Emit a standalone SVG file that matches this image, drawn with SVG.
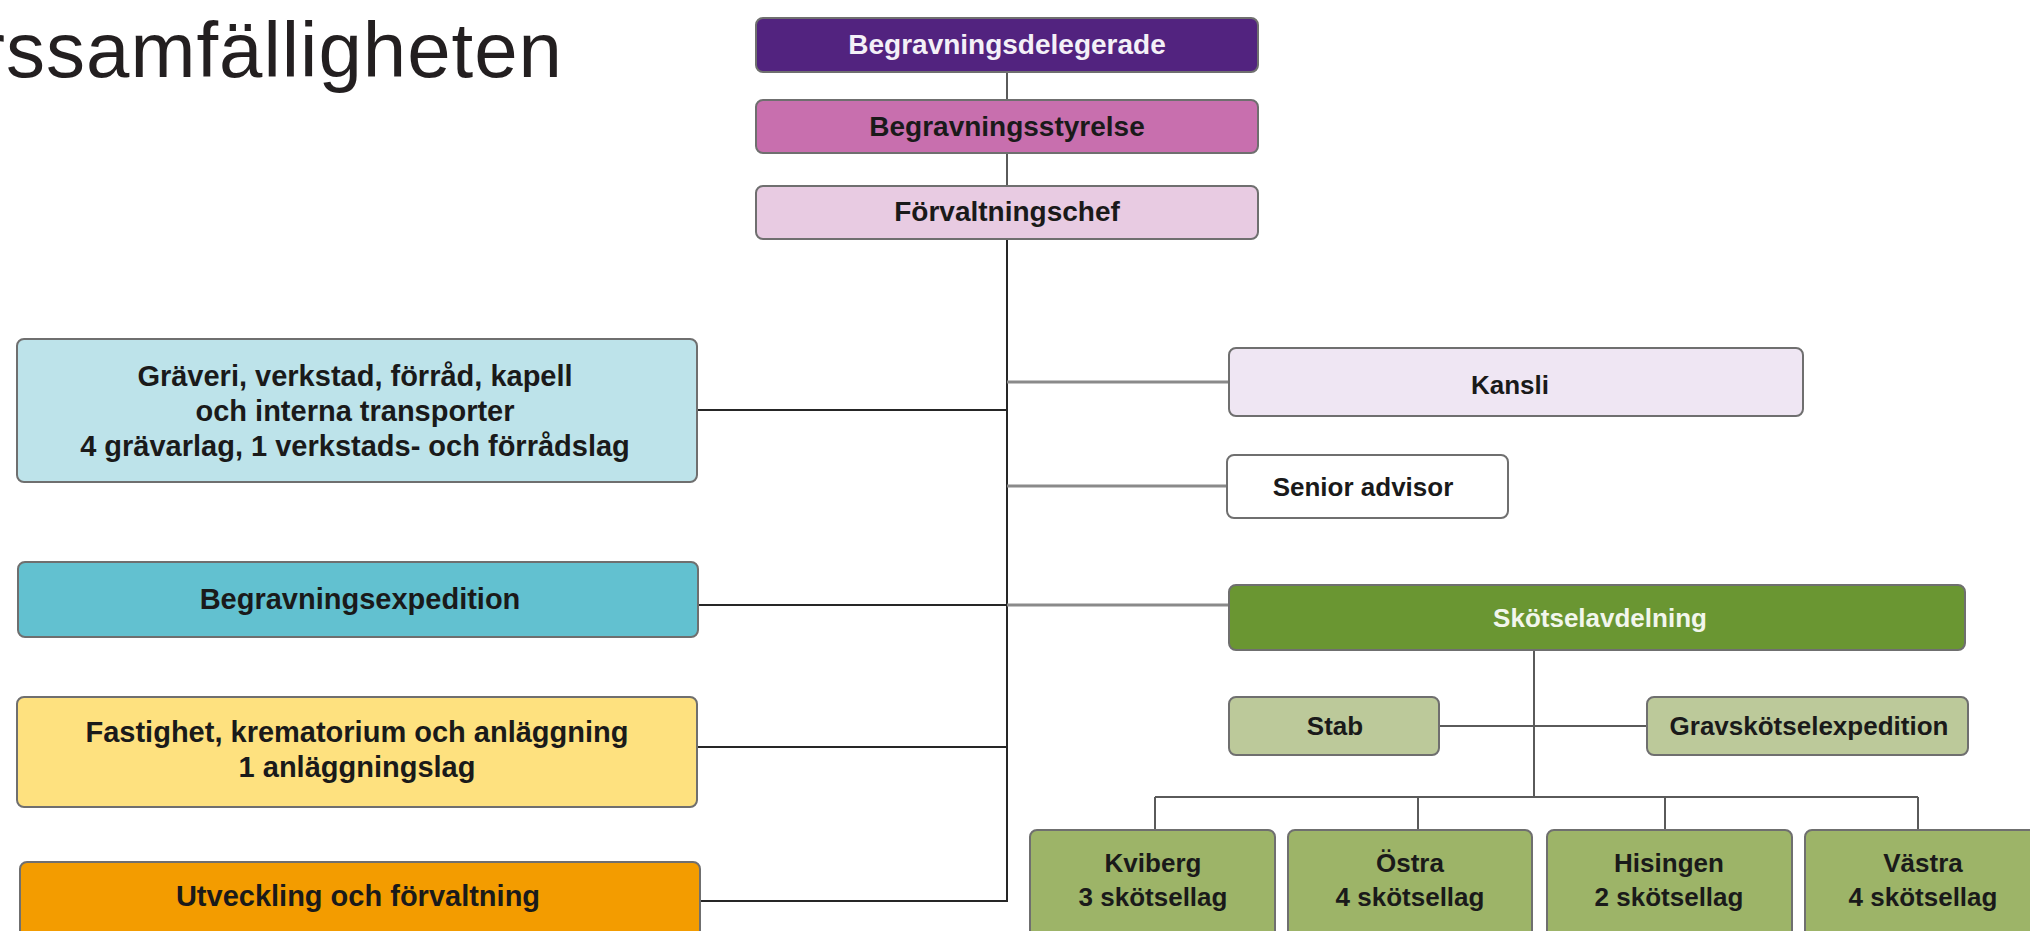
<svg xmlns="http://www.w3.org/2000/svg" width="2030" height="931" viewBox="0 0 2030 931">
<style>
.box{stroke:#6f6f6f;stroke-width:2}
.t{font-family:"Liberation Sans",Arial,sans-serif;font-weight:bold;fill:#1a1a1a;text-anchor:middle}
.t29{font-size:29px}
.t28{font-size:28px}
.t26{font-size:26px}
.w{fill:#f4f0f7}
.k{stroke:#262626;stroke-width:2;fill:none}
.g{stroke:#8a8a8a;stroke-width:3;fill:none}
.d{stroke:#5a5a5a;stroke-width:2;fill:none}
</style>
<rect width="2030" height="931" fill="#ffffff"/>
<text x="563" y="77" font-family="Liberation Sans, Arial, sans-serif" font-size="78" letter-spacing="1" fill="#231f20" text-anchor="end">rssamfälligheten</text>

<g id="connectors">
<path class="d" d="M1007 72V100M1007 153V186"/>
<path class="k" d="M1007 239V902"/>
<path class="k" d="M697 410H1007M698 605H1007M697 747H1007M700 901H1007"/>
<path class="g" d="M1007 382H1229M1007 486H1227M1007 605H1229"/>
<path class="d" d="M1534 650V797M1439 726H1647M1155 797H1918M1155 797V830M1418 797V830M1665 797V830M1918 797V830"/>
</g>

<g id="n-delegerade"><rect class="box" x="756" y="18" width="502" height="54" rx="7" fill="#52237f"/><text class="t t28 w" x="1007" y="54" style="fill:#f4f0f7">Begravningsdelegerade</text></g>
<g id="n-styrelse"><rect class="box" x="756" y="100" width="502" height="53" rx="7" fill="#c86fae"/><text class="t t28" x="1007" y="136">Begravningsstyrelse</text></g>
<g id="n-forvaltningschef"><rect class="box" x="756" y="186" width="502" height="53" rx="7" fill="#e8cbe2"/><text class="t t28" x="1007" y="221">Förvaltningschef</text></g>

<g id="n-graveri"><rect class="box" x="17" y="339" width="680" height="143" rx="7" fill="#bde3ea"/>
<text class="t t29" x="355" y="386">Gräveri, verkstad, förråd, kapell</text>
<text class="t t29" x="355" y="421">och interna transporter</text>
<text class="t t29" x="355" y="456">4 grävarlag, 1 verkstads- och förrådslag</text></g>
<g id="n-begravningsexpedition"><rect class="box" x="18" y="562" width="680" height="75" rx="7" fill="#62c1d0"/><text class="t t29" x="360" y="609">Begravningsexpedition</text></g>
<g id="n-fastighet"><rect class="box" x="17" y="697" width="680" height="110" rx="7" fill="#fee17f"/>
<text class="t t29" x="357" y="742">Fastighet, krematorium och anläggning</text>
<text class="t t29" x="357" y="777">1 anläggningslag</text></g>
<g id="n-utveckling"><rect class="box" x="20" y="862" width="680" height="100" rx="7" fill="#f39c00"/><text class="t t29" x="358" y="906">Utveckling och förvaltning</text></g>

<g id="n-kansli"><rect class="box" x="1229" y="348" width="574" height="68" rx="7" fill="#efe6f3"/><text class="t t26" x="1510" y="394">Kansli</text></g>
<g id="n-senior"><rect class="box" x="1227" y="455" width="281" height="63" rx="7" fill="#ffffff"/><text class="t t26" x="1363" y="496">Senior advisor</text></g>
<g id="n-skotselavdelning"><rect class="box" x="1229" y="585" width="736" height="65" rx="7" fill="#6a9632"/><text class="t t26" x="1600" y="627" style="fill:#f2f6ec">Skötselavdelning</text></g>
<g id="n-stab"><rect class="box" x="1229" y="697" width="210" height="58" rx="7" fill="#bcc99a"/><text class="t t26" x="1335" y="735">Stab</text></g>
<g id="n-gravskotsel"><rect class="box" x="1647" y="697" width="321" height="58" rx="7" fill="#bcc99a"/><text class="t t26" x="1809" y="735">Gravskötselexpedition</text></g>

<g id="n-kviberg"><rect class="box" x="1030" y="830" width="245" height="130" rx="7" fill="#9db468"/><text class="t t26" x="1153" y="872">Kviberg</text><text class="t t26" x="1153" y="906">3 skötsellag</text></g>
<g id="n-ostra"><rect class="box" x="1288" y="830" width="244" height="130" rx="7" fill="#9db468"/><text class="t t26" x="1410" y="872">Östra</text><text class="t t26" x="1410" y="906">4 skötsellag</text></g>
<g id="n-hisingen"><rect class="box" x="1547" y="830" width="245" height="130" rx="7" fill="#9db468"/><text class="t t26" x="1669" y="872">Hisingen</text><text class="t t26" x="1669" y="906">2 skötsellag</text></g>
<g id="n-vastra"><rect class="box" x="1805" y="830" width="250" height="130" rx="7" fill="#9db468"/><text class="t t26" x="1923" y="872">Västra</text><text class="t t26" x="1923" y="906">4 skötsellag</text></g>
</svg>
